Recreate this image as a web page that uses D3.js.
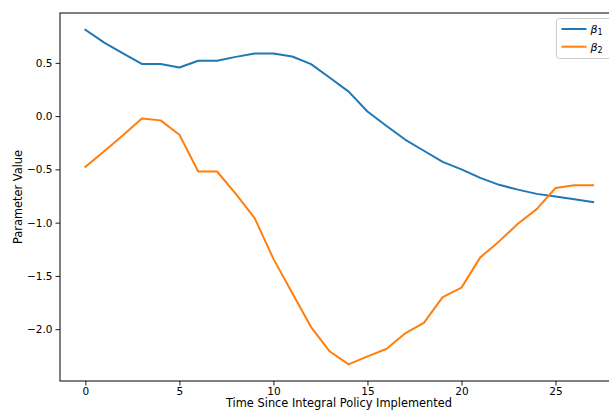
<!DOCTYPE html>
<html>
<head>
<meta charset="utf-8">
<script src="https://cdn.jsdelivr.net/npm/d3@7"></script>
<style>
	body { margin: 0; background: #fff; }
	svg text { font-family: "DejaVu Sans", sans-serif; }
</style>
</head>
<body>
<div id="chart"></div>
<script>
// data
var timeSteps = d3.range(0, 28);
var beta1 = [0.81, 0.69, 0.59, 0.49, 0.49, 0.456, 0.52, 0.52, 0.556, 0.587, 0.587, 0.56, 0.488, 0.36, 0.23, 0.043,
	-0.09, -0.22, -0.325, -0.43, -0.50, -0.58, -0.645, -0.69, -0.73, -0.754, -0.78, -0.807];
var beta2 = [-0.475, -0.33, -0.18, -0.022, -0.04, -0.175, -0.52, -0.52, -0.73, -0.957, -1.34, -1.66, -1.98, -2.21, -2.33, -2.255,
	-2.186, -2.04, -1.94, -1.70, -1.61, -1.326, -1.176, -1.01, -0.873, -0.675, -0.65, -0.65];
var seriesNames = ["1", "2"];
var seriesColors = ["#1f77b4", "#ff7f0e"];
var xTicks = [0, 5, 10, 15, 20, 25];
var yTicks = [0.5, 0.0, -0.5, -1.0, -1.5, -2.0];

var svgWidth = 609;
var svgHeight = 410;

var svg = d3.select("#chart")
	.append("svg")
	.attr("width", svgWidth)
	.attr("height", svgHeight);

// axes box (right side runs past the window, as in the reference)
var plot = { left: 60, right: 618.5, top: 13, bottom: 381 };

var xScale = d3.scaleLinear()
	.domain([-1.35, 28.35])
	.range([plot.left, plot.right]);

var yScale = d3.scaleLinear()
	.domain([-2.4865, 0.968])
	.range([plot.bottom, plot.top]);

// lines
var line = d3.line()
	.x((d, i) => xScale(timeSteps[i]))
	.y(d => yScale(d));

[beta1, beta2].forEach(function (values, i) {
	svg.append("path")
		.datum(values)
		.attr("fill", "none")
		.attr("stroke", seriesColors[i])
		.attr("stroke-width", 2)
		.attr("stroke-linejoin", "round")
		.attr("stroke-linecap", "square")
		.attr("d", line);
});

// axes
var xAxis = svg.append("g")
	.attr("transform", `translate(0, ${plot.bottom})`)
	.call(d3.axisBottom(xScale).tickValues(xTicks).tickSize(4.5).tickPadding(2).tickFormat(d3.format("d")));

var yAxis = svg.append("g")
	.attr("transform", `translate(${plot.left}, 0)`)
	.call(d3.axisLeft(yScale).tickValues(yTicks).tickSize(4.5).tickPadding(3)
		.tickFormat(d => d3.format(".1f")(d).replace("-", "\u2212")));

[xAxis, yAxis].forEach(function (ax) {
	ax.select(".domain").remove();
	ax.selectAll("line").attr("stroke", "#000").attr("stroke-width", 0.9);
	ax.selectAll("text").attr("font-size", "10.5px").attr("fill", "#000")
		.attr("font-family", "DejaVu Sans, sans-serif");
});

// spines
svg.append("rect")
	.attr("x", plot.left)
	.attr("y", plot.top)
	.attr("width", plot.right - plot.left)
	.attr("height", plot.bottom - plot.top)
	.attr("fill", "none")
	.attr("stroke", "#000")
	.attr("stroke-width", 1);

// axis labels
svg.append("text")
	.attr("x", 339)
	.attr("y", 407)
	.attr("text-anchor", "middle")
	.attr("font-size", "11.4px")
	.text("Time Since Integral Policy Implemented");

svg.append("text")
	.attr("transform", `translate(22, ${(plot.top + plot.bottom) / 2}) rotate(-90)`)
	.attr("text-anchor", "middle")
	.attr("font-size", "11.4px")
	.text("Parameter Value");

// legend
var legend = svg.append("g").attr("transform", "translate(556.5, 18.5)");

legend.append("rect")
	.attr("width", 70)
	.attr("height", 40)
	.attr("rx", 3)
	.attr("fill", "#fff")
	.attr("fill-opacity", 0.8)
	.attr("stroke", "#cccccc")
	.attr("stroke-width", 1);

seriesNames.forEach(function (name, i) {
	var y = 10.5 + i * 17.7;
	legend.append("line")
		.attr("x1", 5)
		.attr("x2", 30)
		.attr("y1", y)
		.attr("y2", y)
		.attr("stroke", seriesColors[i])
		.attr("stroke-width", 2);
	var label = legend.append("text")
		.attr("x", 34)
		.attr("y", y + 4)
		.attr("font-size", "11px");
	label.append("tspan").attr("font-style", "italic").text("\u03b2");
	label.append("tspan").attr("font-size", "8px").attr("dy", 2).text(name);
});
</script>
</body>
</html>
